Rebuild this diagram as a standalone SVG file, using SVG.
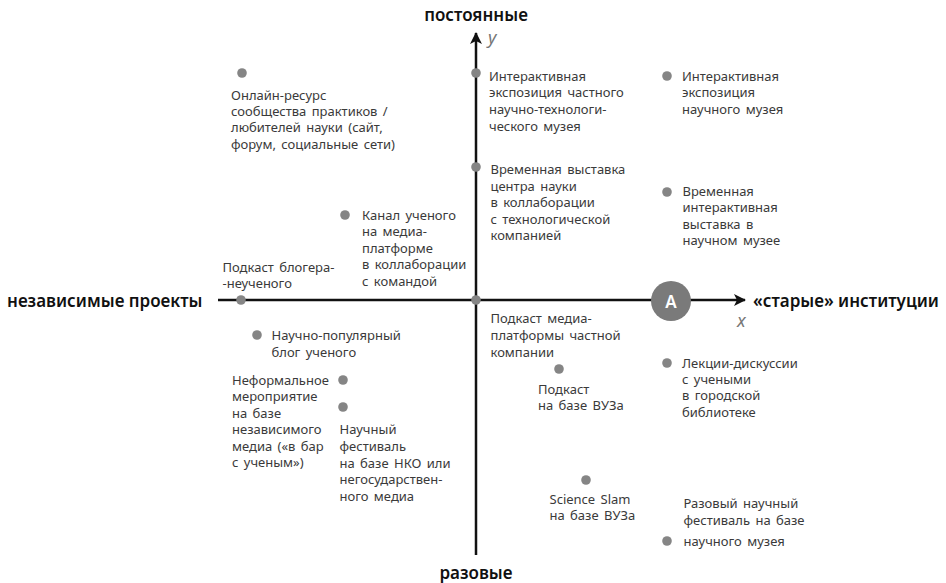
<svg xmlns="http://www.w3.org/2000/svg" width="946" height="583" viewBox="0 0 946 583">
<defs>
<marker id="arr" markerUnits="userSpaceOnUse" markerWidth="14" markerHeight="14" refX="12" refY="7" orient="auto">
<path d="M1,1 L13,7 L1,13 L4,7 Z" fill="#111"/>
</marker>
</defs>
<style>
.lbl{font-family:"Noto Sans","Open Sans","DejaVu Sans",sans-serif;font-size:13px;fill:#3a3a3a;word-spacing:2px}
.ax{font-family:"Noto Sans","Open Sans","DejaVu Sans",sans-serif;font-size:17px;font-weight:600;fill:#111}
.var{font-family:"Noto Sans","DejaVu Sans",sans-serif;font-size:18px;font-style:italic;fill:#777}
.dot{fill:#858585}
.axis{stroke:#111;stroke-width:2.5;fill:none}
</style>
<rect width="946" height="583" fill="#fff"/>
<g id="connectors">
<line class="axis" x1="218" y1="300" x2="745" y2="300" marker-end="url(#arr)"/>
<line class="axis" x1="476" y1="555" x2="476" y2="33" marker-end="url(#arr)"/>
</g>
<g id="axis-labels">
<text class="ax" x="476" y="21" text-anchor="middle">постоянные</text>
<text class="ax" x="476" y="579" text-anchor="middle">разовые</text>
<text class="ax" x="7" y="307">независимые проекты</text>
<text class="ax" x="753" y="307">«старые» институции</text>
<text class="var" x="488" y="44">y</text>
<text class="var" x="737" y="327">x</text>
</g>
<g id="node-A">
<circle cx="671" cy="301" r="20" fill="#7a7a7a"/>
<text x="671" y="307.5" text-anchor="middle" font-family="Noto Sans, DejaVu Sans, sans-serif" font-size="17" font-weight="600" fill="#fff">A</text>
</g>
<g id="n-online">
<circle class="dot" cx="242" cy="73" r="4.8"/>
<text class="lbl" x="231" y="99.5"><tspan x="231">Онлайн-ресурс</tspan><tspan x="231" dy="16.4">сообщества практиков /</tspan><tspan x="231" dy="16.4">любителей науки (сайт,</tspan><tspan x="231" dy="16.4">форум, социальные сети)</tspan></text>
</g>
<g id="n-private-museum">
<circle class="dot" cx="476" cy="73" r="4.8"/>
<text class="lbl" x="489" y="80.5"><tspan x="489">Интерактивная</tspan><tspan x="489" dy="16.7">экспозиция частного</tspan><tspan x="489" dy="16.7">научно-технологи-</tspan><tspan x="489" dy="16.7">ческого музея</tspan></text>
</g>
<g id="n-science-museum">
<circle class="dot" cx="667" cy="76" r="4.8"/>
<text class="lbl" x="682" y="80.5"><tspan x="682">Интерактивная</tspan><tspan x="682" dy="16.7">экспозиция</tspan><tspan x="682" dy="16.7">научного музея</tspan></text>
</g>
<g id="n-temp-center">
<circle class="dot" cx="476" cy="167" r="4.8"/>
<text class="lbl" x="490.5" y="174"><tspan x="490.5">Временная выставка</tspan><tspan x="490.5" dy="16.5">центра науки</tspan><tspan x="490.5" dy="16.5">в коллаборации</tspan><tspan x="490.5" dy="16.5">с технологической</tspan><tspan x="490.5" dy="16.5">компанией</tspan></text>
</g>
<g id="n-temp-museum">
<circle class="dot" cx="667" cy="192" r="4.8"/>
<text class="lbl" x="682.5" y="196"><tspan x="682.5">Временная</tspan><tspan x="682.5" dy="16.4">интерактивная</tspan><tspan x="682.5" dy="16.4">выставка в</tspan><tspan x="682.5" dy="16.4">научном музее</tspan></text>
</g>
<g id="n-channel">
<circle class="dot" cx="345" cy="215" r="4.8"/>
<text class="lbl" x="362" y="219.5"><tspan x="362">Канал ученого</tspan><tspan x="362" dy="16.5">на медиа-</tspan><tspan x="362" dy="16.5">платформе</tspan><tspan x="362" dy="16.5">в коллаборации</tspan><tspan x="362" dy="16.5">с командой</tspan></text>
</g>
<g id="n-blogger">
<circle class="dot" cx="241" cy="300" r="4.8"/>
<text class="lbl" x="222.5" y="271.5"><tspan x="222.5">Подкаст блогера-</tspan><tspan x="222.5" dy="16.5">-неученого</tspan></text>
</g>
<g id="n-media-podcast">
<circle class="dot" cx="476" cy="300" r="4.8"/>
<text class="lbl" x="490.5" y="323"><tspan x="490.5">Подкаст медиа-</tspan><tspan x="490.5" dy="17">платформы частной</tspan><tspan x="490.5" dy="17">компании</tspan></text>
</g>
<g id="n-blog">
<circle class="dot" cx="257" cy="335" r="4.8"/>
<text class="lbl" x="271.5" y="339.5"><tspan x="271.5">Научно-популярный</tspan><tspan x="271.5" dy="17.5">блог ученого</tspan></text>
</g>
<g id="n-informal">
<circle class="dot" cx="343" cy="380" r="4.8"/>
<text class="lbl" x="232" y="384.5"><tspan x="232">Неформальное</tspan><tspan x="232" dy="16.5">мероприятие</tspan><tspan x="232" dy="16.5">на базе</tspan><tspan x="232" dy="16.5">независимого</tspan><tspan x="232" dy="16.5">медиа («в бар</tspan><tspan x="232" dy="16.5">с ученым»)</tspan></text>
</g>
<g id="n-ngo-festival">
<circle class="dot" cx="343" cy="407" r="4.8"/>
<text class="lbl" x="339.5" y="434"><tspan x="339.5">Научный</tspan><tspan x="339.5" dy="16.8">фестиваль</tspan><tspan x="339.5" dy="16.8">на базе НКО или</tspan><tspan x="339.5" dy="16.8">негосударствен-</tspan><tspan x="339.5" dy="16.8">ного медиа</tspan></text>
</g>
<g id="n-vuz-podcast">
<circle class="dot" cx="559" cy="369" r="4.8"/>
<text class="lbl" x="538" y="393.5"><tspan x="538">Подкаст</tspan><tspan x="538" dy="16.5">на базе ВУЗа</tspan></text>
</g>
<g id="n-lectures">
<circle class="dot" cx="667" cy="363" r="4.8"/>
<text class="lbl" x="682" y="367.5"><tspan x="682">Лекции-дискуссии</tspan><tspan x="682" dy="16.4">с учеными</tspan><tspan x="682" dy="16.4">в городской</tspan><tspan x="682" dy="16.4">библиотеке</tspan></text>
</g>
<g id="n-slam">
<circle class="dot" cx="586" cy="480" r="4.8"/>
<text class="lbl" x="549.5" y="503.5"><tspan x="549.5">Science Slam</tspan><tspan x="549.5" dy="16.5">на базе ВУЗа</tspan></text>
</g>
<g id="n-oneoff-festival">
<circle class="dot" cx="667" cy="541" r="4.8"/>
<text class="lbl" x="683.5" y="508"><tspan x="683.5">Разовый научный</tspan><tspan x="683.5" dy="16.7">фестиваль на базе</tspan><tspan x="683.5" dy="21.3">научного музея</tspan></text>
</g>
</svg>
